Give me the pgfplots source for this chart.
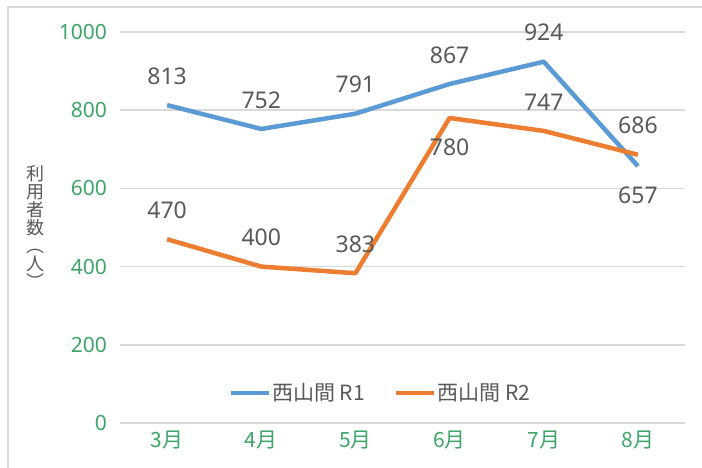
\documentclass[border=0pt]{standalone}
\usepackage{fontspec}
\setmainfont{Noto Sans CJK JP}
\newfontfamily\numfont{Noto Sans}
\usepackage{pgfplots}
\usepackage{pgfplotstable}
\pgfplotsset{compat=1.18}

\definecolor{s1}{RGB}{91,155,213}
\definecolor{s2}{RGB}{237,125,49}
\definecolor{tk}{RGB}{62,165,106}
\definecolor{tx}{RGB}{89,89,89}
\definecolor{gl}{RGB}{217,217,217}

% p = label above (1) or below (-1) the point
\pgfplotstableread{
x y p
0 813 1
1 752 1
2 791 1
3 867 1
4 924 1
5 657 -1
}\rone
\pgfplotstableread{
x y p
0 470 1
1 400 1
2 383 1
3 780 -1
4 747 1
5 686 1
}\rtwo

\begin{document}
\begin{tikzpicture}[x=1bp,y=1bp]
\path[use as bounding box] (-120,-45) rectangle (582,423);
\clip (-120,-45) rectangle (582,423);
\fill[white] (-120,-45) rectangle (582,423);
\draw[gl, line width=2bp] (-112,416) rectangle (600,-60);
\begin{axis}[
  at={(0,0)}, anchor=south west,
  scale only axis, width=565bp, height=391bp,
  xmin=-0.5, xmax=5.5, ymin=0, ymax=1000,
  ytick={0,200,...,1000},
  xtick={0,...,5},
  xticklabels={3月,4月,5月,6月,7月,8月},
  axis line style={draw=none},
  major tick length=0pt,
  ymajorgrids, grid style={gl, line width=1.5bp},
  tick label style={text=tk},
  yticklabel style={font=\numfont\fontsize{21bp}{24bp}\selectfont,
    anchor=east, inner sep=0pt, xshift=-13bp},
  xticklabel style={font=\fontsize{21bp}{24bp}\selectfont,
    anchor=center, inner sep=0pt, yshift=-17bp},
  /pgf/number format/assume math mode=true,
  /pgf/number format/1000 sep={},
  ylabel={利\\用\\者\\数\\︵\\人\\︶},
  ylabel style={rotate=-90, at={(rel axis cs:-0.149,0.5)}, anchor=center,
    align=center, font=\fontsize{18bp}{18bp}\selectfont, text=tx},
  legend style={at={(0.46,0.077)}, anchor=center, draw=none, fill=none,
    font=\fontsize{21bp}{24bp}\selectfont, text=tx,
    /tikz/every even column/.append style={column sep=28bp},
    inner sep=0pt, /tikz/every node/.append style={inner sep=1bp}},
  legend columns=2,
  legend image code/.code={\draw[#1, line width=4.5bp] (0bp,0bp) -- (38bp,0bp);},
  nodes near coords,
  visualization depends on={\thisrow{p} \as \lp},
  nodes near coords style={anchor=center, yshift={\lp*29bp}, text=tx,
    font=\numfont\fontsize{23bp}{26bp}\selectfont,
    /pgf/number format/assume math mode=true},
]
\addplot[s1, line width=4.5bp, line join=round, mark=none] table[x=x, y=y] {\rone};
\addlegendentry{西山間 R1}
\addplot[s2, line width=4.5bp, line join=round, mark=none] table[x=x, y=y] {\rtwo};
\addlegendentry{西山間 R2}
\end{axis}
\end{tikzpicture}
\end{document}
